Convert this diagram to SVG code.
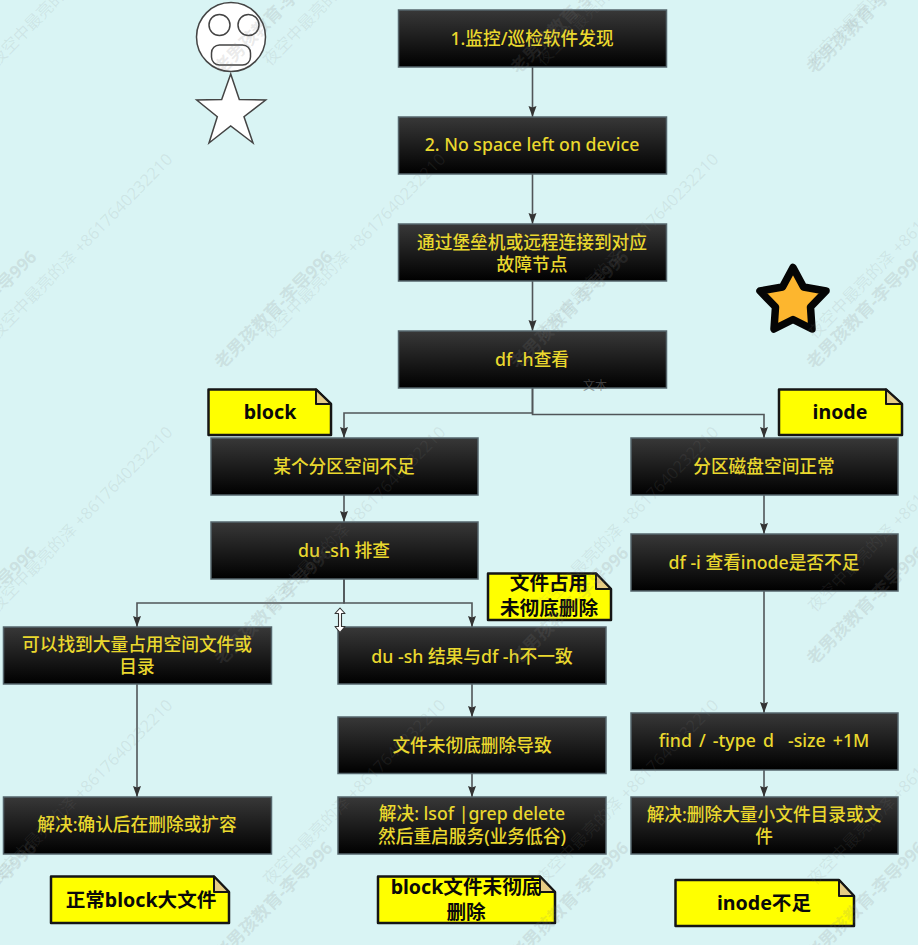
<svg xmlns="http://www.w3.org/2000/svg" width="918" height="945" viewBox="0 0 918 945">
<style>
.box{fill:url(#g);stroke:#56666c;stroke-width:1.5}
.bt{font-family:"Noto Sans","Noto Sans CJK SC",sans-serif;font-size:17.7px;font-weight:500;fill:#ead82e;text-anchor:middle}
.note{fill:#ff0;stroke:#151515;stroke-width:2.5;stroke-linejoin:round}
.fold{fill:#e6cc84;stroke:#151515;stroke-width:2;stroke-linejoin:round}
.nt{font-family:"Noto Sans","Noto Sans CJK SC",sans-serif;font-size:19.6px;font-weight:700;fill:#0a0a0a;text-anchor:middle}
.c{fill:none;stroke:#505558;stroke-width:1.6}
.wa{font-family:"Noto Sans","Noto Sans CJK SC",sans-serif;font-size:16.5px;fill:#808080;fill-opacity:.13}
.wb{font-family:"Noto Sans","Noto Sans CJK SC",sans-serif;font-size:17.5px;font-weight:700;fill:#808080;fill-opacity:.17}
.f{fill:#fff;stroke:#444;stroke-width:1.5}
</style>
<defs>
<linearGradient id="g" x1="0" y1="0" x2="0" y2="1"><stop offset="0" stop-color="#383838"/><stop offset="1" stop-color="#000"/></linearGradient>
<marker id="a" markerUnits="userSpaceOnUse" markerWidth="12" markerHeight="10" refX="11" refY="5" orient="auto"><path d="M0,1 L11,5 L0,9 L1.500,5 Z" fill="#333"/></marker>
</defs>
<rect width="918" height="945" fill="#d9f4f4"/>

<g id="connectors">
<path class="c" marker-end="url(#a)" d="M532.5,67V117"/>
<path class="c" marker-end="url(#a)" d="M532.5,174V224"/>
<path class="c" marker-end="url(#a)" d="M532.5,281V331"/>
<path class="c" marker-end="url(#a)" d="M532.5,388V413H344V438"/>
<path class="c" marker-end="url(#a)" d="M532.5,388V414.5H764V438"/>
<path class="c" marker-end="url(#a)" d="M344,495V522"/>
<path class="c" marker-end="url(#a)" d="M344,579V603H137V627"/>
<path class="c" marker-end="url(#a)" d="M344,579V603H472V627"/>
<path class="c" marker-end="url(#a)" d="M137,684V797"/>
<path class="c" marker-end="url(#a)" d="M472,684V717"/>
<path class="c" marker-end="url(#a)" d="M472,773V797"/>
<path class="c" marker-end="url(#a)" d="M764,495V534"/>
<path class="c" marker-end="url(#a)" d="M764,591V713"/>
<path class="c" marker-end="url(#a)" d="M764,770V797"/>
</g>

<g id="n1"><rect class="box" x="398.500" y="10" width="268" height="57"/><text class="bt" x="532" y="45">1.监控/巡检软件发现</text></g>
<g id="n2"><rect class="box" x="398.500" y="117" width="268" height="57"/><text class="bt" x="532" y="151">2. No space left on device</text></g>
<g id="n3"><rect class="box" x="398.500" y="224" width="268" height="57"/><text class="bt" x="532" y="249">通过堡垒机或远程连接到对应</text><text class="bt" x="532" y="271">故障节点</text></g>
<g id="n4"><rect class="box" x="398.500" y="331" width="268" height="57"/><text class="bt" x="532" y="366">df -h查看</text></g>
<g id="n5"><rect class="box" x="211" y="438" width="267" height="57"/><text class="bt" x="344" y="473">某个分区空间不足</text></g>
<g id="n6"><rect class="box" x="211" y="522" width="267" height="57"/><text class="bt" x="344" y="557">du -sh 排查</text></g>
<g id="n7"><rect class="box" x="631" y="438" width="267" height="57"/><text class="bt" x="764" y="473">分区磁盘空间正常</text></g>
<g id="n8"><rect class="box" x="631" y="534" width="267" height="57"/><text class="bt" x="764" y="569">df -i 查看inode是否不足</text></g>
<g id="n9"><rect class="box" x="631" y="713" width="267" height="57"/><text class="bt" x="764" y="747" xml:space="preserve" style="word-spacing:2.5px">find / -type d  -size +1M</text></g>
<g id="n10"><rect class="box" x="631" y="797" width="267" height="57"/><text class="bt" x="764" y="821">解决:删除大量小文件目录或文</text><text class="bt" x="764" y="843">件</text></g>
<g id="n11"><rect class="box" x="3.500" y="627" width="268" height="57"/><text class="bt" x="137" y="651">可以找到大量占用空间文件或</text><text class="bt" x="137" y="673">目录</text></g>
<g id="n12"><rect class="box" x="3.500" y="797" width="268" height="57"/><text class="bt" x="137" y="831">解决:确认后在删除或扩容</text></g>
<g id="n13"><rect class="box" x="338" y="627" width="268" height="57"/><text class="bt" x="472" y="663">du -sh 结果与df -h不一致</text></g>
<g id="n14"><rect class="box" x="338" y="717" width="268" height="56.500"/><text class="bt" x="472" y="752">文件未彻底删除导致</text></g>
<g id="n15"><rect class="box" x="338" y="797" width="268" height="57"/><text class="bt" x="472" y="820">解决: lsof |grep delete</text><text class="bt" x="472" y="843">然后重启服务(业务低谷)</text></g>

<g id="note-block"><path class="note" d="M208.500,389.500H316L331,404V435H208.500Z"/><path class="fold" d="M316,389.500V404H331Z"/><text class="nt" x="270" y="419">block</text></g>
<g id="note-inode"><path class="note" d="M779,389.500H886L902,404V435H779Z"/><path class="fold" d="M886,389.500V404H902Z"/><text class="nt" x="840" y="419">inode</text></g>
<g id="note-file"><path class="note" d="M488,573.500H596L611,589V620H488Z"/><path class="fold" d="M596,573.500V589H611Z"/><text class="nt" x="549" y="590">文件占用</text><text class="nt" x="549" y="615">未彻底删除</text></g>
<g id="note-normal"><path class="note" d="M51,876.500H214L229,892V923H51Z"/><path class="fold" d="M214,876.500V892H229Z"/><text class="nt" x="141" y="907">正常block大文件</text></g>
<g id="note-unclean"><path class="note" d="M378,876.500H540L555,892V923H378Z"/><path class="fold" d="M540,876.500V892H555Z"/><text class="nt" x="466" y="894">block文件未彻底</text><text class="nt" x="466" y="919">删除</text></g>
<g id="note-inode2"><path class="note" d="M675.500,880H839L854,896V926H675.500Z"/><path class="fold" d="M839,880V896H854Z"/><text class="nt" x="764" y="910">inode不足</text></g>

<g id="face"><circle class="f" cx="231" cy="37" r="34.500"/><circle class="f" cx="219.500" cy="25" r="10.500"/><circle class="f" cx="248.500" cy="25" r="10.500"/><rect class="f" x="211.500" y="45" width="39" height="20" rx="8"/></g>
<g id="white-star"><polygon class="f" points="230.700,74 239.300,99.500 265.700,100 244,116.700 253,143 230.700,126 209,143 217.300,116.700 196.700,100 221.700,99.500"/></g>
<g id="orange-star"><polygon fill="#fdb62e" stroke="#050505" stroke-width="7.500" stroke-linejoin="round" points="793,267.500 803.500,287 826,291 810.500,307 812,329 793,319.500 774,329 775.500,307 760,291 782.500,287"/></g>

<g id="cursor"><path d="M340,608L345,613.500H341.500V626.500H345L340,632.500L335,626.500H338.500V613.500H335Z" fill="#fff" stroke="#333" stroke-width="1.100" stroke-linejoin="round"/></g>
<text id="faint-label" x="595" y="390" font-family="'Noto Sans CJK SC',sans-serif" font-size="12" fill="#666" fill-opacity=".6" text-anchor="middle">文本</text>

<g id="watermark">
<text class="wa" transform="translate(-3,67) rotate(-45.500)">夜空中最亮的泽 +8617640232210</text>
<text class="wa" transform="translate(270,67) rotate(-45.500)">夜空中最亮的泽 +8617640232210</text>
<text class="wa" transform="translate(543,67) rotate(-45.500)">夜空中最亮的泽 +8617640232210</text>
<text class="wa" transform="translate(815,67) rotate(-45.500)">夜空中最亮的泽 +8617640232210</text>
<text class="wa" transform="translate(-3,340) rotate(-45.500)">夜空中最亮的泽 +8617640232210</text>
<text class="wa" transform="translate(270,340) rotate(-45.500)">夜空中最亮的泽 +8617640232210</text>
<text class="wa" transform="translate(543,340) rotate(-45.500)">夜空中最亮的泽 +8617640232210</text>
<text class="wa" transform="translate(815,340) rotate(-45.500)">夜空中最亮的泽 +8617640232210</text>
<text class="wa" transform="translate(-3,613) rotate(-45.500)">夜空中最亮的泽 +8617640232210</text>
<text class="wa" transform="translate(270,613) rotate(-45.500)">夜空中最亮的泽 +8617640232210</text>
<text class="wa" transform="translate(543,613) rotate(-45.500)">夜空中最亮的泽 +8617640232210</text>
<text class="wa" transform="translate(815,613) rotate(-45.500)">夜空中最亮的泽 +8617640232210</text>
<text class="wa" transform="translate(-3,886) rotate(-45.500)">夜空中最亮的泽 +8617640232210</text>
<text class="wa" transform="translate(270,886) rotate(-45.500)">夜空中最亮的泽 +8617640232210</text>
<text class="wa" transform="translate(543,886) rotate(-45.500)">夜空中最亮的泽 +8617640232210</text>
<text class="wa" transform="translate(815,886) rotate(-45.500)">夜空中最亮的泽 +8617640232210</text>
<text class="wb" transform="translate(-74,75) rotate(-45)">老男孩教育-李导996</text>
<text class="wb" transform="translate(222,75) rotate(-45)">老男孩教育-李导996</text>
<text class="wb" transform="translate(518,75) rotate(-45)">老男孩教育-李导996</text>
<text class="wb" transform="translate(814,75) rotate(-45)">老男孩教育-李导996</text>
<text class="wb" transform="translate(-74,370) rotate(-45)">老男孩教育-李导996</text>
<text class="wb" transform="translate(222,370) rotate(-45)">老男孩教育-李导996</text>
<text class="wb" transform="translate(518,370) rotate(-45)">老男孩教育-李导996</text>
<text class="wb" transform="translate(814,370) rotate(-45)">老男孩教育-李导996</text>
<text class="wb" transform="translate(-74,666) rotate(-45)">老男孩教育-李导996</text>
<text class="wb" transform="translate(222,666) rotate(-45)">老男孩教育-李导996</text>
<text class="wb" transform="translate(518,666) rotate(-45)">老男孩教育-李导996</text>
<text class="wb" transform="translate(814,666) rotate(-45)">老男孩教育-李导996</text>
<text class="wb" transform="translate(-74,961) rotate(-45)">老男孩教育-李导996</text>
<text class="wb" transform="translate(222,961) rotate(-45)">老男孩教育-李导996</text>
<text class="wb" transform="translate(518,961) rotate(-45)">老男孩教育-李导996</text>
<text class="wb" transform="translate(814,961) rotate(-45)">老男孩教育-李导996</text>
</g>
</svg>
